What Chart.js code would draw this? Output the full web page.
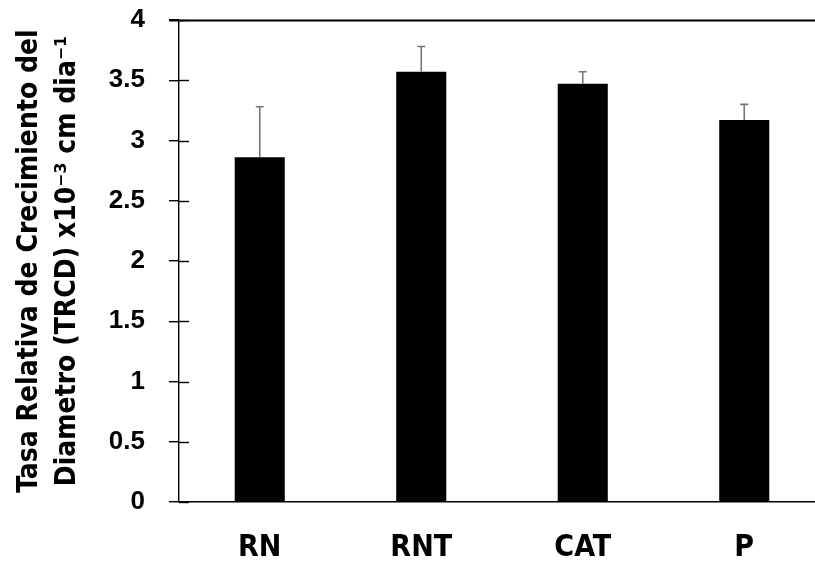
<!DOCTYPE html>
<html>
<head>
<meta charset="utf-8">
<script src="https://cdn.jsdelivr.net/npm/chart.js@4.4.1/dist/chart.umd.min.js"></script>
<style>
  html, body { margin: 0; padding: 0; background: #fff; overflow: hidden; }
  #wrap { position: absolute; left: 0; top: 0; width: 830px; height: 561px; }
</style>
</head>
<body>
<div id="wrap"><canvas id="c" width="830" height="561"></canvas></div>
<script>
// Treatments, mean TRCD and upper standard error
const categories = ['RN', 'RNT', 'CAT', 'P'];
const meanValues = [2.86, 3.57, 3.47, 3.17];
const errorValues = [0.42, 0.21, 0.10, 0.13];
const yTickValues = [0, 0.5, 1, 1.5, 2, 2.5, 3, 3.5, 4];
const yTickLabels = ['0', '0.5', '1', '1.5', '2', '2.5', '3', '3.5', '4'];
const yTitleLines = ['Tasa Relativa de Crecimiento del', 'Diametro (TRCD) x10\u207B\u00B3 cm dia\u207B\u00B9'];

const narrow = "'Liberation Sans Narrow', 'DejaVu Sans Condensed', 'Liberation Sans', sans-serif";
const regular = "'Liberation Sans', Arial, sans-serif";

// Upper error bars with a small cap
const errorBars = {
  id: 'errorBars',
  afterDatasetsDraw(chart) {
    const ctx = chart.ctx;
    const y = chart.scales.y;
    const meta = chart.getDatasetMeta(0);
    ctx.save();
    ctx.strokeStyle = '#767676';
    ctx.lineWidth = 1.6;
    meta.data.forEach((bar, i) => {
      const top = y.getPixelForValue(meanValues[i] + errorValues[i]);
      ctx.beginPath();
      ctx.moveTo(bar.x, bar.y);
      ctx.lineTo(bar.x, top);
      ctx.moveTo(bar.x - 4, top);
      ctx.lineTo(bar.x + 4, top);
      ctx.stroke();
    });
    ctx.restore();
  }
};

// Tick marks that cross the value axis, plus the line at the top of the range
const axisMarks = {
  id: 'axisMarks',
  afterDraw(chart) {
    const ctx = chart.ctx;
    const y = chart.scales.y;
    const area = chart.chartArea;
    ctx.save();
    ctx.strokeStyle = '#000';
    ctx.lineWidth = 1.4;
    yTickValues.forEach(v => {
      const py = Math.round(y.getPixelForValue(v)) + 0.5;
      ctx.beginPath();
      ctx.moveTo(area.left, py);
      ctx.lineTo(area.left + 10, py);
      ctx.stroke();
    });
    const topY = Math.round(y.getPixelForValue(yTickValues[yTickValues.length - 1])) + 0.5;
    ctx.lineWidth = 2;
    ctx.beginPath();
    ctx.moveTo(area.left - 10, topY);
    ctx.lineTo(chart.width, topY);
    ctx.stroke();
    ctx.restore();
  }
};

new Chart(document.getElementById('c'), {
  type: 'bar',
  data: {
    labels: categories,
    datasets: [{
      data: meanValues,
      backgroundColor: '#000',
      borderWidth: 0,
      barPercentage: 1,
      categoryPercentage: 0.31
    }]
  },
  options: {
    responsive: false,
    devicePixelRatio: 1,
    animation: false,
    layout: { padding: { top: 20, right: 5, left: 0, bottom: 0 } },
    plugins: { legend: { display: false }, tooltip: { enabled: false } },
    scales: {
      x: {
        grid: { display: false, drawTicks: false },
        border: { display: true, color: '#000', width: 1.4 },
        ticks: { color: '#000', padding: 28, font: { family: narrow, size: 30, weight: 'bold' } },
        afterFit(scale) { scale.height = 59; scale.paddingLeft = 0; scale.paddingRight = 0; }
      },
      y: {
        min: 0,
        max: 4,
        afterBuildTicks(scale) { scale.ticks = yTickValues.map(v => ({ value: v })); },
        grid: { display: true, drawOnChartArea: false, drawTicks: true, tickLength: 10, color: '#000', lineWidth: 1.4 },
        border: { display: true, color: '#000', width: 1.4 },
        ticks: {
          color: '#000',
          padding: 24,
          font: { family: regular, size: 26, weight: 'bold' },
          callback: (v, i) => yTickLabels[i]
        },
        title: {
          display: true,
          text: yTitleLines,
          color: '#000',
          padding: { top: 10, bottom: 0 },
          font: { family: narrow, size: 28, weight: 'bold', lineHeight: 1.38 }
        },
        afterFit(scale) { scale.width = 179; scale.paddingTop = 0; scale.paddingBottom = 0; }
      }
    }
  },
  plugins: [errorBars, axisMarks]
});
</script>
</body>
</html>
